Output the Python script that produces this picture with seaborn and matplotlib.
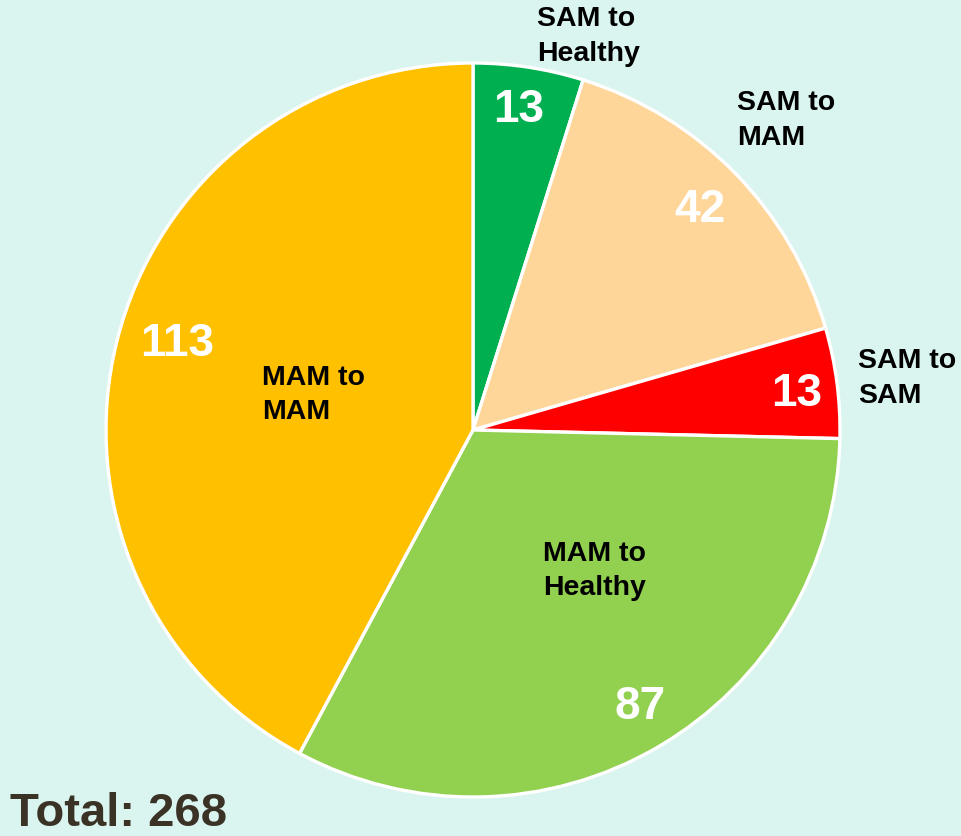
"""Pie chart of nutrition status transitions"""

import matplotlib
matplotlib.use("Agg")
import seaborn as sns
from matplotlib import pyplot as plt

categories = ["SAM to\nHealthy", "SAM to\nMAM", "SAM to\nSAM", "MAM to\nHealthy", "MAM to\nMAM"]
counts = [13, 42, 13, 87, 113]
colors = ["#00B050", "#FFD699", "#FF0000", "#92D050", "#FFC000"]

# label positions (data units, pie radius = 1)
value_pos = [(0.123, 0.872), (0.619, 0.600), (0.883, 0.099), (0.455, -0.754), (-0.807, 0.235)]
name_pos = [(0.174, 1.072), (0.719, 0.843), (1.049, 0.140), (0.191, -0.384), (-0.575, 0.095)]

bg = "#DAF5F0"

sns.set_theme(style="white")
plt.rcParams["font.family"] = ["Liberation Sans", "DejaVu Sans"]

fig = plt.figure(figsize=(9.61, 8.36), dpi=100, facecolor=bg)
cx, cy, r = 473, 430, 367
ax = fig.add_axes([(cx - r) / 961, (836 - cy - r) / 836, 2 * r / 961, 2 * r / 836])
ax.set_facecolor(bg)

ax.pie(
    counts,
    colors=sns.color_palette(colors),
    startangle=90,
    counterclock=False,
    radius=1,
    wedgeprops={"edgecolor": "white", "linewidth": 2.4},
)
ax.set_xlim(-1, 1)
ax.set_ylim(-1, 1)
ax.set_aspect("equal")
ax.axis("off")

for (x, y), v in zip(value_pos, counts):
    ax.text(x, y, str(v), color="white", fontsize=33, fontweight="bold",
            ha="center", va="center", clip_on=False)

for (x, y), name in zip(name_pos, categories):
    ax.text(x, y, name, color="black", fontsize=20.5, fontweight="bold",
            ha="left", va="center", linespacing=1.42, clip_on=False)

fig.text(10 / 961, 1 - 814 / 836, f"Total: {sum(counts)}", color="#3B3226",
         fontsize=34, fontweight="bold", ha="left", va="center")

fig.savefig("out.png", dpi=100, facecolor=bg)
